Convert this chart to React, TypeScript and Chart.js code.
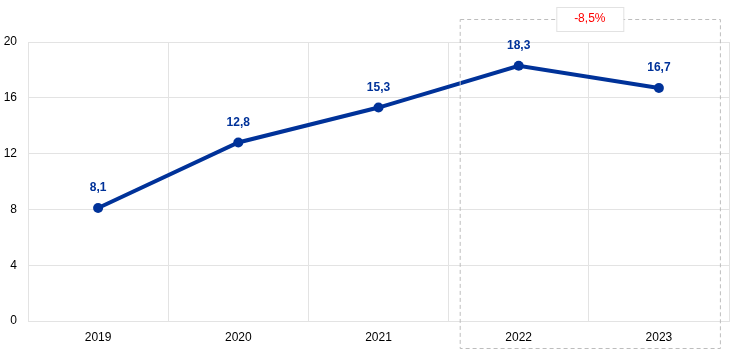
import React, { useEffect, useRef } from "react";
import { Chart, registerables } from "chart.js";

Chart.register(...registerables);

const categories = ["2019", "2020", "2021", "2022", "2023"];
const values = [8.1, 12.8, 15.3, 18.3, 16.7];
const valueLabels = ["8,1", "12,8", "15,3", "18,3", "16,7"];
const yTicks = [0, 4, 8, 12, 16, 20];
const boxFrom = "2022";
const boxTo = "2023";
const boxLabel = "-8,5%";

const BLUE = "#003299";
const FONT = "'Liberation Sans', Arial, sans-serif";

const overlayPlugin = {
  id: "overlay",
  afterDatasetsDraw(chart: any) {
    const ctx = chart.ctx;
    const meta = chart.getDatasetMeta(0);
    ctx.save();
    ctx.font = `bold 12px ${FONT}`;
    ctx.fillStyle = BLUE;
    ctx.textAlign = "center";
    ctx.textBaseline = "middle";
    meta.data.forEach((pt: any, i: number) => {
      ctx.fillText(valueLabels[i], pt.x, pt.y - 20);
    });
    ctx.restore();

    const xs = chart.scales.x;
    const i0 = categories.indexOf(boxFrom);
    const i1 = categories.indexOf(boxTo);
    const x0 = xs.getPixelForValue(i0) - 59;
    const x1 = xs.getPixelForValue(i1) + 61;
    const y0 = 19;
    const y1 = 348;
    ctx.save();
    ctx.strokeStyle = "#bdbdbd";
    ctx.lineWidth = 1;
    ctx.setLineDash([4, 3]);
    ctx.strokeRect(x0 + 0.5, y0 + 0.5, x1 - x0, y1 - y0);
    ctx.setLineDash([]);
    const cx = (x0 + x1) / 2;
    const bw = 67;
    const bh = 24;
    ctx.fillStyle = "#ffffff";
    ctx.fillRect(cx - bw / 2, 7, bw, bh);
    ctx.strokeStyle = "#e2e2e2";
    ctx.strokeRect(cx - bw / 2 + 0.5, 7.5, bw, bh);
    ctx.fillStyle = "#ff0000";
    ctx.font = `12px ${FONT}`;
    ctx.textAlign = "center";
    ctx.textBaseline = "middle";
    ctx.fillText(boxLabel, cx, 19);
    ctx.restore();
  },
};

export default function App() {
  const ref = useRef<HTMLCanvasElement>(null);
  useEffect(() => {
    document.body.style.margin = "0";
    const chart = new Chart(ref.current!, {
      type: "line",
      data: {
        labels: categories,
        datasets: [
          {
            data: values,
            borderColor: BLUE,
            backgroundColor: BLUE,
            borderWidth: 4,
            pointRadius: 5,
            pointBackgroundColor: BLUE,
            pointBorderWidth: 0,
            tension: 0,
          },
        ],
      },
      options: {
        animation: false,
        responsive: false,
        maintainAspectRatio: false,
        layout: { padding: { left: 0, top: 42, right: 15, bottom: 0 } },
        plugins: { legend: { display: false }, tooltip: { enabled: false } },
        scales: {
          x: {
            offset: true,
            grid: { color: "#e3e3e3", drawTicks: false, offset: true },
            border: { color: "#e3e3e3" },
            ticks: { color: "#000", font: { family: FONT, size: 12 }, padding: 9 },
            afterFit: (s: any) => {
              s.height = 32;
            },
          },
          y: {
            min: 0,
            max: 20,
            afterBuildTicks: (s: any) => {
              s.ticks = yTicks.map((v) => ({ value: v }));
            },
            grid: { color: "#e3e3e3", drawTicks: false },
            border: { color: "#e3e3e3" },
            ticks: { color: "#000", font: { family: FONT, size: 12 }, padding: 11 },
            afterFit: (s: any) => {
              s.width = 28;
            },
          },
        },
      },
      plugins: [overlayPlugin],
    });
    return () => chart.destroy();
  }, []);
  return <canvas ref={ref} width={744} height={353} style={{ display: "block" }} />;
}
